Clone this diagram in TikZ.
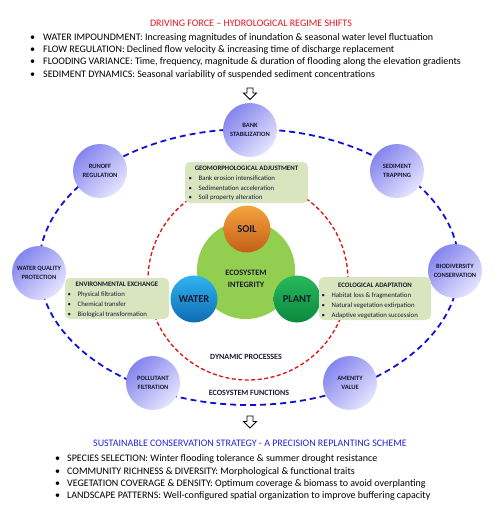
\documentclass[tikz,border=0pt]{standalone}
\usepackage{fontspec}
\setmainfont{Carlito}
\definecolor{redT}{HTML}{E3141C}
\definecolor{blueT}{HTML}{2323D8}
\definecolor{ellBlue}{HTML}{1010D8}
\definecolor{circRed}{HTML}{E01010}
\definecolor{lavDark}{HTML}{8585EE}
\definecolor{lavLight}{HTML}{E4E4FF}
\definecolor{boxFill}{HTML}{D9E5BF}
\definecolor{ecoGreen}{HTML}{92CF50}
\definecolor{txtDark}{HTML}{1A1A30}
\definecolor{soilTop}{HTML}{F5A43E}
\definecolor{soilBot}{HTML}{C45E18}
\definecolor{waterTop}{HTML}{2FB4F0}
\definecolor{waterBot}{HTML}{0E6CB4}
\definecolor{plantTop}{HTML}{27B85C}
\definecolor{plantBot}{HTML}{0A8A3E}
\begin{document}
\begin{tikzpicture}[x=1pt,y=-1pt,
  fcirc/.style={circle, minimum size=54pt, inner sep=0pt, top color=lavDark, bottom color=lavLight, shading angle=45, align=center, font=\fontsize{6.5}{8.3}\selectfont\bfseries, text=txtDark},
  core/.style={circle, minimum size=47pt, inner sep=0pt, font=\fontsize{10.5}{12}\selectfont\bfseries, text=txtDark},
  pbox/.style={fill=boxFill, rounded corners=5pt, inner sep=0pt},
  btitle/.style={inner sep=0pt, font=\fontsize{6.8}{8}\selectfont\bfseries, text=txtDark, text height=0.7em, text depth=0.2em},
  btext/.style={inner sep=0pt, anchor=west, font=\fontsize{6.8}{8}\selectfont, text=txtDark, text height=0.7em, text depth=0.2em},
  mainline/.style={inner sep=0pt, anchor=west, font=\fontsize{10}{12}\selectfont, text=black, text height=0.7em, text depth=0.2em},
  bigtitle/.style={inner sep=0pt, font=\fontsize{10}{12}\selectfont, text height=0.7em, text depth=0.2em},
  ringlabel/.style={inner sep=0pt, font=\fontsize{8}{10}\selectfont\bfseries, text=txtDark},
  hollowarrow/.style={draw=black, line width=0.8pt, line join=miter, fill=white}
]
\useasboundingbox (0,0) rectangle (500,513);

% ---------- top block ----------
\node[bigtitle, text=redT] (ttl) at (251,24) {DRIVING FORCE – HYDROLOGICAL REGIME SHIFTS};
\node[mainline] (t1) at (30,38)   {\makebox[13pt][l]{•}WATER IMPOUNDMENT: Increasing magnitudes of inundation \& seasonal water level fluctuation};
\node[mainline] (t2) at (30,50.5) {\makebox[13pt][l]{•}FLOW REGULATION: Declined flow velocity \& increasing time of discharge replacement};
\node[mainline] (t3) at (30,62.5) {\makebox[13pt][l]{•}FLOODING VARIANCE: Time, frequency, magnitude \& duration of flooding along the elevation gradients};
\node[mainline] (t4) at (30,75)   {\makebox[13pt][l]{•}SEDIMENT DYNAMICS: Seasonal variability of suspended sediment concentrations};

\draw[hollowarrow] (247,88) -- (253,88) -- (253,93) -- (256.5,93) -- (250,99.5) -- (243.5,93) -- (247,93) -- cycle;

% ---------- rings ----------
\draw[ellBlue, line width=1.8pt, dash pattern=on 6pt off 4pt] (249,267) ellipse [x radius=210pt, y radius=138pt];
\draw[circRed, line width=1.3pt, dash pattern=on 4pt off 2.5pt] (248,280) circle [radius=100pt];

% ---------- function circles ----------
\node[fcirc] (bank) at (250,130) {BANK\\STABILIZATION};
\node[fcirc] (runoff) at (100,171) {RUNOFF\\REGULATION};
\node[fcirc] (sed) at (397,171) {SEDIMENT\\TRAPPING};
\node[fcirc] (wq) at (39,273) {WATER QUALITY\\PROTECTION};
\node[fcirc] (bio) at (455,271) {BIODIVERSITY\\CONSERVATION};
\node[fcirc] (poll) at (153,383) {POLLUTANT\\FILTRATION};
\node[fcirc] (amen) at (350,383) {AMENITY\\VALUE};

% ---------- core ----------
\node[circle, minimum size=98pt, inner sep=0pt, fill=ecoGreen] (eco) at (246,270) {};
\node[inner sep=0pt, align=center, font=\fontsize{8.3}{12}\selectfont\bfseries, text=txtDark] (ecotxt) at (246,279) {ECOSYSTEM\\INTEGRITY};
\node[core, top color=soilTop, bottom color=soilBot] (soil) at (247,229) {SOIL};
\node[core, top color=waterTop, bottom color=waterBot] (water) at (194,299) {WATER};
\node[core, top color=plantTop, bottom color=plantBot] (plant) at (297,299) {PLANT};

% ---------- process boxes ----------
\node[pbox, minimum width=123pt, minimum height=41pt] (geo) at (246.5,182.5) {};
\node[btitle] (geoT) at (246.5,168.3) {GEOMORPHOLOGICAL ADJUSTMENT};
\node[btext] (geo1) at (188.5,177.7) {\makebox[10pt][l]{•}Bank erosion intensification};
\node[btext] (geo2) at (188.5,187.7) {\makebox[10pt][l]{•}Sedimentation acceleration};
\node[btext] (geo3) at (188.5,197.3) {\makebox[10pt][l]{•}Soil property alteration};

\node[pbox, minimum width=104pt, minimum height=41pt] (env) at (117,298.5) {};
\node[btitle] (envT) at (117,284) {ENVIRONMENTAL EXCHANGE};
\node[btext] (env1) at (67.5,294) {\makebox[10pt][l]{•}Physical filtration};
\node[btext] (env2) at (67.5,303.5) {\makebox[10pt][l]{•}Chemical transfer};
\node[btext] (env3) at (67.5,313.5) {\makebox[10pt][l]{•}Biological transformation};

\node[pbox, minimum width=112pt, minimum height=43pt] (ecoad) at (375,298.5) {};
\node[btitle] (ecoT) at (375,284.5) {ECOLOGICAL ADAPTATION};
\node[btext] (eco1) at (321.5,295) {\makebox[10pt][l]{•}Habitat loss \& fragmentation};
\node[btext] (eco2) at (321.5,305) {\makebox[10pt][l]{•}Natural vegetation extirpation};
\node[btext] (eco3) at (321.5,314.5) {\makebox[10pt][l]{•}Adaptive vegetation succession};

\node[ringlabel] (dyn) at (246,357) {DYNAMIC PROCESSES};
\node[ringlabel] (efun) at (249,393) {ECOSYSTEM FUNCTIONS};

% ---------- bottom block ----------
\draw[hollowarrow] (247,416) -- (253,416) -- (253,421.5) -- (256.5,421.5) -- (250,428) -- (243.5,421.5) -- (247,421.5) -- cycle;

\node[bigtitle, text=blueT] (btl) at (250,444) {SUSTAINABLE CONSERVATION STRATEGY - A PRECISION REPLANTING SCHEME};
\node[mainline] (b1) at (55,459)   {\makebox[12pt][l]{•}SPECIES SELECTION: Winter flooding tolerance \& summer drought resistance};
\node[mainline] (b2) at (55,471.5) {\makebox[12pt][l]{•}COMMUNITY RICHNESS \& DIVERSITY: Morphological \& functional traits};
\node[mainline] (b3) at (55,483.5) {\makebox[12pt][l]{•}VEGETATION COVERAGE \& DENSITY: Optimum coverage \& biomass to avoid overplanting};
\node[mainline] (b4) at (55,496)   {\makebox[12pt][l]{•}LANDSCAPE PATTERNS: Well-configured spatial organization to improve buffering capacity};
\end{tikzpicture}
\end{document}
